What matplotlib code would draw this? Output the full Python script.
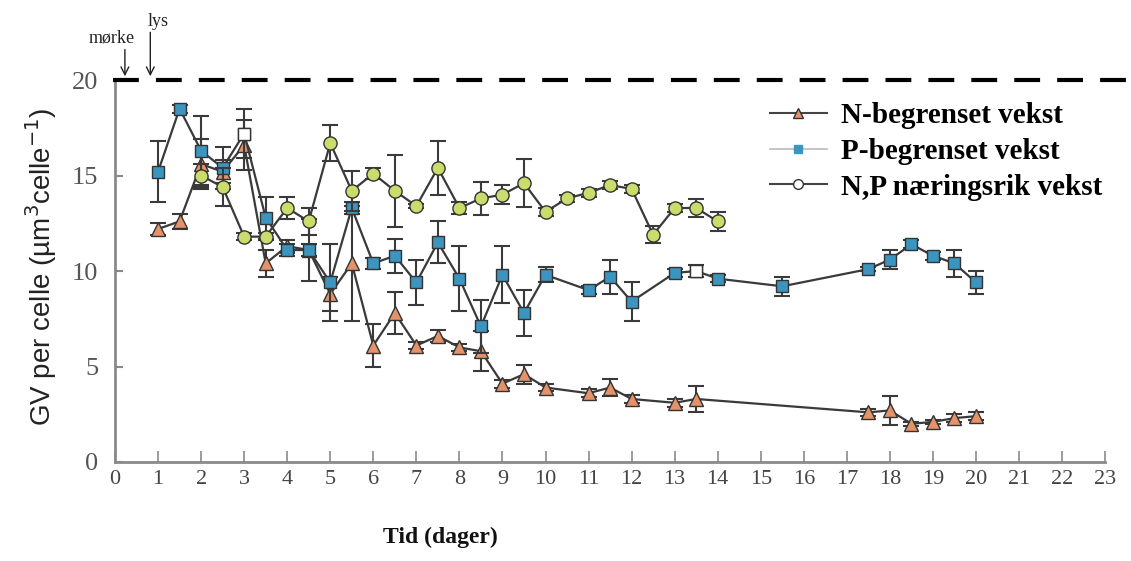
import numpy as np
import matplotlib
matplotlib.use("Agg")
import matplotlib.pyplot as plt
from matplotlib.lines import Line2D

# cellevolum (GV) per celle over tid for tre vekstbetingelser
n_dager = [1, 1.5, 2, 2.5, 3, 3.5, 4, 4.5, 5, 5.5, 6, 6.5, 7, 7.5, 8, 8.5,
           9, 9.5, 10, 11, 11.5, 12, 13, 13.5, 17.5, 18, 18.5, 19, 19.5, 20]
n_gv = [12.2, 12.6, 15.6, 15.2, 16.6, 10.4, 11.3, 11.1, 8.8, 10.4, 6.1, 7.8,
        6.1, 6.6, 6.0, 5.8, 4.1, 4.6, 3.9, 3.6, 3.9, 3.3, 3.1, 3.3,
        2.6, 2.7, 2.0, 2.1, 2.3, 2.4]
n_sd = [0.3, 0.4, 1.3, 0.6, 1.3, 0.7, 0.3, 0.3, 0.9, 3.0, 1.1, 1.1,
        0.2, 0.3, 0.2, 1.05, 0.2, 0.5, 0.2, 0.2, 0.45, 0.2, 0.2, 0.7,
        0.2, 0.75, 0.1, 0.1, 0.2, 0.2]

p_dager = [1, 1.5, 2, 2.5, 3, 3.5, 4, 4.5, 5, 5.5, 6, 6.5, 7, 7.5, 8, 8.5,
           9, 9.5, 10, 11, 11.5, 12, 13, 13.5, 14, 15.5, 17.5, 18, 18.5,
           19, 19.5, 20]
p_gv = [15.2, 18.5, 16.3, 15.4, 17.2, 12.8, 11.1, 11.1, 9.4, 13.3, 10.4, 10.8,
        9.4, 11.5, 9.6, 7.1, 9.8, 7.8, 9.8, 9.0, 9.7, 8.4, 9.9, 10.0,
        9.6, 9.2, 10.1, 10.6, 11.4, 10.8, 10.4, 9.4]
p_sd = [1.6, 0.2, 1.8, 1.1, 1.3, 1.1, 0.3, 1.6, 2.0, 0.3, 0.3, 0.9,
        1.2, 1.1, 1.7, 1.4, 1.5, 1.2, 0.4, 0.2, 0.9, 1.0, 0.2, 0.3,
        0.2, 0.5, 0.1, 0.5, 0.2, 0.2, 0.7, 0.6]
p_hvit = [4, 23]  # punkter tegnet med hvit fyll

np_dager = [2, 2.5, 3, 3.5, 4, 4.5, 5, 5.5, 6, 6.5, 7, 7.5, 8, 8.5, 9, 9.5,
            10, 10.5, 11, 11.5, 12, 12.5, 13, 13.5, 14]
np_gv = [15.0, 14.4, 11.8, 11.8, 13.3, 12.6, 16.7, 14.2, 15.1, 14.2, 13.4, 15.4,
         13.3, 13.8, 14.0, 14.6, 13.1, 13.8, 14.1, 14.5, 14.3, 11.9, 13.3, 13.3,
         12.6]
np_sd = [0.6, 1.0, 0.2, 0.2, 0.55, 0.7, 0.95, 1.05, 0.3, 1.9, 0.1, 1.4,
         0.3, 0.85, 0.5, 1.25, 0.2, 0.2, 0.2, 0.2, 0.2, 0.45, 0.2, 0.45,
         0.5]

lys_grense = 20
x_ticks = list(range(0, 24))
y_ticks = [0, 5, 10, 15, 20]

serif = ['Liberation Serif', 'DejaVu Serif']
sans = ['Liberation Sans', 'DejaVu Sans']

linje = '#3a3a3a'
grå = '#8a8a8a'

fig = plt.figure(figsize=(11.31, 5.61), dpi=100)
ax = fig.add_axes([115 / 1131, 99 / 561, 1 - 115 / 1131, 391.5 / 561])


def tegn_serie(x, y, sd, marker, farge, ms, z):
    ax.errorbar(x, y, yerr=sd, fmt='none', ecolor=linje, elinewidth=1.5,
                capsize=5.5, capthick=1.5, zorder=z)
    ax.plot(x, y, color=linje, lw=1.6, marker=marker, ms=ms, mfc=farge,
            mec='#333333', mew=1.0, zorder=z + 0.5)


tegn_serie(n_dager, n_gv, n_sd, '^', '#e3926a', 10, 3)
tegn_serie(p_dager, p_gv, p_sd, 's', '#3b95bf', 9, 4)
tegn_serie(np_dager, np_gv, np_sd, 'o', '#cadd6c', 9.5, 5)
ax.plot(np.array(p_dager)[p_hvit], np.array(p_gv)[p_hvit], ls='none',
        marker='s', ms=9, mfc='white', mec='#333333', mew=1.0, zorder=6)

# stiplet linje ved 20
ax.plot([-0.05, 23.6], [lys_grense, lys_grense], color='black', lw=3,
        dashes=(6.2, 4.1), solid_capstyle='butt', clip_on=False, zorder=7)

# piler for mørke / lys
pil = dict(arrowstyle='->', color='#222222', lw=1.0, shrinkA=0, shrinkB=0,
           mutation_scale=14)
ax.annotate('', xy=(0.23, 20.2), xytext=(0.23, 21.6), annotation_clip=False,
            arrowprops=pil)
ax.annotate('', xy=(0.82, 20.2), xytext=(0.82, 22.5), annotation_clip=False,
            arrowprops=pil)
ax.text(-0.07, 21.75, 'mørke', ha='center', va='bottom', fontsize=13,
        family=serif, color='#222222', clip_on=False)
ax.text(1.0, 22.6, 'lys', ha='center', va='bottom', fontsize=13,
        family=serif, color='#222222', clip_on=False)

ax.set_xlim(0, 23.6)
ax.set_ylim(0, 20.5)
ax.set_xticks(x_ticks)
ax.set_yticks(y_ticks)
for s in ['top', 'right']:
    ax.spines[s].set_visible(False)
for s in ['left', 'bottom']:
    ax.spines[s].set_color(grå)
    ax.spines[s].set_linewidth(2)
ax.spines['left'].set_bounds(0, 20)
ax.spines['bottom'].set_bounds(0, 23)
ax.tick_params(axis='x', direction='in', length=8, width=1.2, color=grå,
               labelsize=16, labelcolor='#444444', pad=6)
ax.tick_params(axis='y', direction='in', length=6, width=1.5, color=grå,
               labelsize=19, labelcolor='#555555', pad=12)
for lab in ax.get_xticklabels() + ax.get_yticklabels():
    lab.set_family(serif)

ax.set_ylabel('GV per celle (µm$^3$celle$^{-1}$)', fontsize=20, family=sans,
              color='#222222', labelpad=9)
ax.text(7.55, -3.95, 'Tid (dager)', ha='center', va='center', fontsize=17,
        family=serif, fontweight='bold', color='#111111')

handles = [
    Line2D([], [], color='#444444', lw=1.5, marker='^', ms=7,
           mfc='#e3926a', mec='#333333'),
    Line2D([], [], color='#bbbbbb', lw=1.2, marker='s', ms=6,
           mfc='#3b95bf', mec='#3b95bf'),
    Line2D([], [], color='#444444', lw=1.5, marker='o', ms=7,
           mfc='white', mec='#333333'),
]
labels = ['N-begrenset vekst', 'P-begrenset vekst', 'N,P næringsrik vekst']
fig.legend(handles, labels, loc='upper left', bbox_to_anchor=(770 / 1131, 1 - 102 / 561),
           frameon=False, borderpad=0, borderaxespad=0, handlelength=1.95,
           handletextpad=0.5, labelspacing=0.3,
           prop=dict(family=serif, weight='bold', size=21))

fig.savefig('out.png', dpi=100, facecolor='white')
